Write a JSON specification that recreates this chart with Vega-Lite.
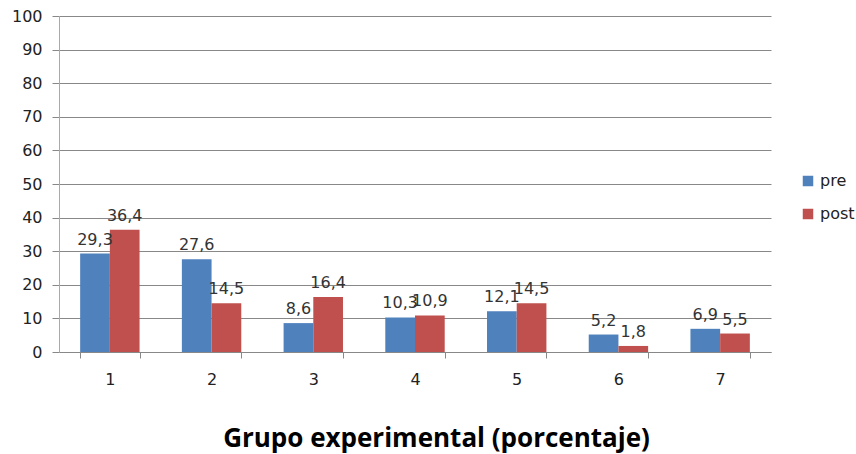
{
  "$schema": "https://vega.github.io/schema/vega-lite/v6.json",
  "width": 712,
  "height": 336,
  "autosize": "none",
  "padding": {"left": 59, "top": 16, "right": 85, "bottom": 102},
  "background": "white",
  "config": {
    "view": {"stroke": null},
    "locale": {"number": {"decimal": ",", "thousands": ".", "grouping": [3], "currency": ["", " €"]}},
    "font": "DejaVu Sans"
  },
  "data": {
    "values": [
      {"grupo": "1", "serie": "pre", "valor": 29.3},
      {"grupo": "1", "serie": "post", "valor": 36.4},
      {"grupo": "2", "serie": "pre", "valor": 27.6},
      {"grupo": "2", "serie": "post", "valor": 14.5},
      {"grupo": "3", "serie": "pre", "valor": 8.6},
      {"grupo": "3", "serie": "post", "valor": 16.4},
      {"grupo": "4", "serie": "pre", "valor": 10.3},
      {"grupo": "4", "serie": "post", "valor": 10.9},
      {"grupo": "5", "serie": "pre", "valor": 12.1},
      {"grupo": "5", "serie": "post", "valor": 14.5},
      {"grupo": "6", "serie": "pre", "valor": 5.2},
      {"grupo": "6", "serie": "post", "valor": 1.8},
      {"grupo": "7", "serie": "pre", "valor": 6.9},
      {"grupo": "7", "serie": "post", "valor": 5.5}
    ]
  },
  "encoding": {
    "x": {
      "field": "grupo", "type": "nominal",
      "scale": {"paddingInner": 0.416, "paddingOuter": 0.208},
      "axis": {
        "title": "Grupo experimental (porcentaje)",
        "titleFont": "Open Sans", "titleFontSize": 26, "titleFontWeight": "bold", "titleColor": "black",
        "titlePadding": 38, "titleX": 377,
        "labelAngle": 0, "labelFontSize": 16, "labelColor": "#222", "labelPadding": 13,
        "domainColor": "#888", "tickColor": "#888", "tickBand": "extent", "tickSize": 6,
        "grid": false
      }
    },
    "xOffset": {"field": "serie", "type": "nominal", "sort": ["pre", "post"]},
    "y": {
      "field": "valor", "type": "quantitative",
      "scale": {"domain": [0, 100], "nice": false},
      "axis": {
        "title": null, "values": [0,10,20,30,40,50,60,70,80,90,100],
        "labelFontSize": 16, "labelColor": "#222", "labelPadding": 10,
        "domainColor": "#aaa", "tickColor": "#888", "tickSize": 7,
        "gridColor": "#888", "gridWidth": 1
      }
    }
  },
  "layer": [
    {
      "mark": {"type": "bar"},
      "encoding": {
        "color": {
          "field": "serie", "type": "nominal", "sort": ["pre", "post"],
          "scale": {"domain": ["pre", "post"], "range": ["#4F81BD", "#C0504D"]},
          "legend": {
            "title": null, "orient": "none", "legendX": 741, "legendY": 157,
            "symbolType": "square", "symbolSize": 110, "symbolStrokeWidth": 0,
            "labelFontSize": 16, "labelColor": "#222", "rowPadding": 17, "labelOffset": 4
          }
        }
      }
    },
    {
      "mark": {"type": "text", "baseline": "bottom", "dy": -6, "fontSize": 16, "color": "#333"},
      "encoding": {
        "text": {"field": "valor", "type": "quantitative", "format": ".1f"}
      }
    }
  ]
}
